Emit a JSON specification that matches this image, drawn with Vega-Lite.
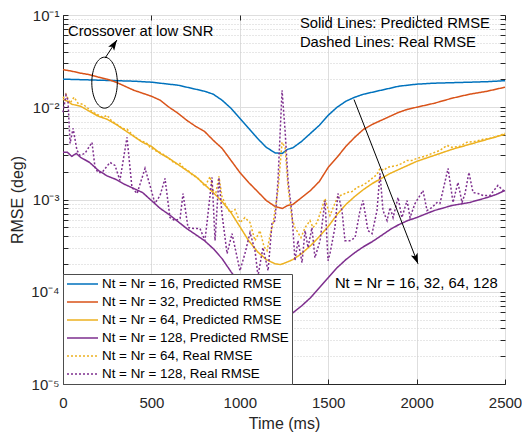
{
  "$schema": "https://vega.github.io/schema/vega-lite/v6.json",
  "width": 442,
  "height": 369,
  "autosize": "none",
  "padding": {"left": 63, "top": 15, "right": 17, "bottom": 48},
  "background": "white",
  "config": {
    "font": "Liberation Sans",
    "view": {"stroke": "#262626", "strokeWidth": 1},
    "axis": {"labelFont": "Liberation Sans", "titleFont": "Liberation Sans", "labelFontSize": 15, "titleFontSize": 16, "titleFontWeight": "normal", "labelColor": "#262626", "titleColor": "#262626", "domainColor": "#262626", "tickColor": "#262626"},
    "legend": {"orient": "bottom-left", "offset": 0, "fillColor": "white", "strokeColor": "#4d4d4d", "strokeWidth": 1, "padding": 3, "symbolType": "stroke", "symbolSize": 961, "symbolStrokeWidth": 1.5, "labelFontSize": 13.4, "labelFont": "Liberation Sans", "labelColor": "black", "labelLimit": 400, "rowPadding": 4, "labelOffset": 3, "clipHeight": 14, "cornerRadius": 0}
  },
  "datasets": {
    "p16": [{"time":0,"rmse":0.02015},{"time":100,"rmse":0.01991},{"time":200,"rmse":0.01966},{"time":300,"rmse":0.01941},{"time":400,"rmse":0.01917},{"time":500,"rmse":0.01869},{"time":600,"rmse":0.01778},{"time":650,"rmse":0.01734},{"time":700,"rmse":0.0165},{"time":750,"rmse":0.01569},{"time":800,"rmse":0.01493},{"time":850,"rmse":0.01385},{"time":900,"rmse":0.01191},{"time":950,"rmse":0.00975},{"time":1000,"rmse":0.00759},{"time":1050,"rmse":0.00591},{"time":1100,"rmse":0.0046},{"time":1150,"rmse":0.003674},{"time":1200,"rmse":0.0032},{"time":1240,"rmse":0.00316},{"time":1270,"rmse":0.003496},{"time":1300,"rmse":0.00363},{"time":1350,"rmse":0.00427},{"time":1400,"rmse":0.005217},{"time":1450,"rmse":0.00637},{"time":1500,"rmse":0.00818},{"time":1550,"rmse":0.01},{"time":1600,"rmse":0.01162},{"time":1650,"rmse":0.01284},{"time":1700,"rmse":0.01385},{"time":1800,"rmse":0.0153},{"time":1900,"rmse":0.01691},{"time":2000,"rmse":0.01778},{"time":2100,"rmse":0.01824},{"time":2200,"rmse":0.01846},{"time":2300,"rmse":0.01869},{"time":2400,"rmse":0.01893},{"time":2500,"rmse":0.01941}],
    "p32": [{"time":0,"rmse":0.02556},{"time":50,"rmse":0.02461},{"time":100,"rmse":0.02342},{"time":150,"rmse":0.02256},{"time":200,"rmse":0.02119},{"time":250,"rmse":0.02015},{"time":300,"rmse":0.01869},{"time":350,"rmse":0.01691},{"time":400,"rmse":0.0153},{"time":450,"rmse":0.0142},{"time":500,"rmse":0.01317},{"time":550,"rmse":0.01191},{"time":600,"rmse":0.01},{"time":650,"rmse":0.00861},{"time":700,"rmse":0.00722},{"time":750,"rmse":0.00621},{"time":800,"rmse":0.00548},{"time":850,"rmse":0.00438},{"time":900,"rmse":0.00358},{"time":950,"rmse":0.002654},{"time":1000,"rmse":0.001966},{"time":1050,"rmse":0.00153},{"time":1100,"rmse":0.001222},{"time":1150,"rmse":0.000975},{"time":1200,"rmse":0.000839},{"time":1240,"rmse":0.000799},{"time":1270,"rmse":0.000861},{"time":1300,"rmse":0.000883},{"time":1350,"rmse":0.001051},{"time":1400,"rmse":0.001252},{"time":1450,"rmse":0.001569},{"time":1500,"rmse":0.002228},{"time":1550,"rmse":0.002861},{"time":1600,"rmse":0.00377},{"time":1650,"rmse":0.00472},{"time":1700,"rmse":0.00577},{"time":1750,"rmse":0.00653},{"time":1800,"rmse":0.00722},{"time":1850,"rmse":0.007987},{"time":1900,"rmse":0.008826},{"time":1950,"rmse":0.009512},{"time":2000,"rmse":0.01},{"time":2100,"rmse":0.01105},{"time":2200,"rmse":0.01252},{"time":2300,"rmse":0.01385},{"time":2400,"rmse":0.01493},{"time":2500,"rmse":0.0165}],
    "p64": [{"time":0,"rmse":0.01222},{"time":25,"rmse":0.01162},{"time":50,"rmse":0.01078},{"time":100,"rmse":0.01025},{"time":150,"rmse":0.009048},{"time":200,"rmse":0.007987},{"time":250,"rmse":0.007405},{"time":300,"rmse":0.00653},{"time":350,"rmse":0.005623},{"time":400,"rmse":0.004839},{"time":450,"rmse":0.004165},{"time":500,"rmse":0.00377},{"time":550,"rmse":0.00316},{"time":600,"rmse":0.002791},{"time":650,"rmse":0.002401},{"time":700,"rmse":0.002066},{"time":750,"rmse":0.001778},{"time":800,"rmse":0.001455},{"time":850,"rmse":0.00119},{"time":900,"rmse":0.000951},{"time":950,"rmse":0.000722},{"time":1000,"rmse":0.000509},{"time":1050,"rmse":0.000358},{"time":1100,"rmse":0.000272},{"time":1150,"rmse":0.000223},{"time":1200,"rmse":0.000201},{"time":1230,"rmse":0.000197},{"time":1260,"rmse":0.000207},{"time":1300,"rmse":0.000223},{"time":1350,"rmse":0.000259},{"time":1400,"rmse":0.000316},{"time":1450,"rmse":0.000396},{"time":1500,"rmse":0.000509},{"time":1550,"rmse":0.000687},{"time":1600,"rmse":0.000883},{"time":1650,"rmse":0.001078},{"time":1700,"rmse":0.001284},{"time":1750,"rmse":0.001493},{"time":1800,"rmse":0.001691},{"time":1850,"rmse":0.001917},{"time":1900,"rmse":0.002119},{"time":1950,"rmse":0.002342},{"time":2000,"rmse":0.002588},{"time":2100,"rmse":0.003008},{"time":2200,"rmse":0.003496},{"time":2300,"rmse":0.003962},{"time":2400,"rmse":0.00449},{"time":2500,"rmse":0.005088}],
    "p128": [{"time":0,"rmse":0.003243},{"time":25,"rmse":0.003243},{"time":50,"rmse":0.002934},{"time":75,"rmse":0.00316},{"time":100,"rmse":0.002861},{"time":150,"rmse":0.002525},{"time":200,"rmse":0.002066},{"time":250,"rmse":0.0018},{"time":300,"rmse":0.00165},{"time":350,"rmse":0.001455},{"time":400,"rmse":0.001317},{"time":450,"rmse":0.00119},{"time":500,"rmse":0.000975},{"time":550,"rmse":0.000799},{"time":600,"rmse":0.000687},{"time":650,"rmse":0.000577},{"time":700,"rmse":0.000484},{"time":750,"rmse":0.000417},{"time":800,"rmse":0.000358},{"time":850,"rmse":0.000293},{"time":900,"rmse":0.000228},{"time":950,"rmse":0.000165},{"time":1000,"rmse":0.000122},{"time":1050,"rmse":0.0000951},{"time":1100,"rmse":0.0000759},{"time":1150,"rmse":0.0000621},{"time":1200,"rmse":0.0000535},{"time":1250,"rmse":0.0000522},{"time":1300,"rmse":0.0000591},{"time":1350,"rmse":0.0000704},{"time":1400,"rmse":0.0000861},{"time":1450,"rmse":0.0001105},{"time":1500,"rmse":0.000142},{"time":1550,"rmse":0.000182},{"time":1600,"rmse":0.000223},{"time":1650,"rmse":0.000265},{"time":1700,"rmse":0.000308},{"time":1750,"rmse":0.00035},{"time":1800,"rmse":0.000406},{"time":1850,"rmse":0.000472},{"time":1900,"rmse":0.000535},{"time":1950,"rmse":0.000591},{"time":2000,"rmse":0.000637},{"time":2100,"rmse":0.000759},{"time":2200,"rmse":0.000861},{"time":2300,"rmse":0.000928},{"time":2400,"rmse":0.001051},{"time":2450,"rmse":0.001133},{"time":2500,"rmse":0.001252}],
    "r64": [{"time":0,"rmse":0.01252},{"time":17,"rmse":0.01385},{"time":40,"rmse":0.01105},{"time":62,"rmse":0.01284},{"time":85,"rmse":0.01105},{"time":113,"rmse":0.01078},{"time":141,"rmse":0.00975},{"time":170,"rmse":0.008826},{"time":192,"rmse":0.00839},{"time":226,"rmse":0.00778},{"time":249,"rmse":0.00818},{"time":277,"rmse":0.00704},{"time":305,"rmse":0.00653},{"time":334,"rmse":0.00591},{"time":362,"rmse":0.00577},{"time":390,"rmse":0.005088},{"time":419,"rmse":0.0046},{"time":447,"rmse":0.00427},{"time":469,"rmse":0.004165},{"time":492,"rmse":0.003674},{"time":520,"rmse":0.003409},{"time":549,"rmse":0.003243},{"time":577,"rmse":0.003008},{"time":605,"rmse":0.002722},{"time":633,"rmse":0.002461},{"time":662,"rmse":0.002461},{"time":684,"rmse":0.002173},{"time":707,"rmse":0.002066},{"time":735,"rmse":0.001824},{"time":758,"rmse":0.001734},{"time":781,"rmse":0.001569},{"time":803,"rmse":0.001385},{"time":832,"rmse":0.001778},{"time":849,"rmse":0.001252},{"time":865,"rmse":0.00119},{"time":882,"rmse":0.001778},{"time":899,"rmse":0.001078},{"time":922,"rmse":0.000861},{"time":945,"rmse":0.000722},{"time":973,"rmse":0.000778},{"time":1001,"rmse":0.000562},{"time":1029,"rmse":0.000637},{"time":1058,"rmse":0.000562},{"time":1086,"rmse":0.000358},{"time":1114,"rmse":0.00046},{"time":1137,"rmse":0.000308},{"time":1154,"rmse":0.000279},{"time":1171,"rmse":0.000406},{"time":1188,"rmse":0.000548},{"time":1216,"rmse":0.001252},{"time":1239,"rmse":0.004165},{"time":1256,"rmse":0.003674},{"time":1273,"rmse":0.00135},{"time":1295,"rmse":0.000621},{"time":1312,"rmse":0.000496},{"time":1329,"rmse":0.000438},{"time":1346,"rmse":0.000386},{"time":1369,"rmse":0.000496},{"time":1397,"rmse":0.000591},{"time":1414,"rmse":0.000496},{"time":1437,"rmse":0.000562},{"time":1454,"rmse":0.000704},{"time":1482,"rmse":0.001025},{"time":1510,"rmse":0.00067},{"time":1533,"rmse":0.000861},{"time":1555,"rmse":0.001078},{"time":1584,"rmse":0.001133},{"time":1606,"rmse":0.00119},{"time":1635,"rmse":0.001222},{"time":1663,"rmse":0.00135},{"time":1691,"rmse":0.00142},{"time":1720,"rmse":0.00153},{"time":1748,"rmse":0.001691},{"time":1776,"rmse":0.001869},{"time":1793,"rmse":0.002173},{"time":1816,"rmse":0.002066},{"time":1833,"rmse":0.002228},{"time":1861,"rmse":0.002284},{"time":1889,"rmse":0.002342},{"time":1917,"rmse":0.002461},{"time":1946,"rmse":0.002654},{"time":1974,"rmse":0.002654},{"time":2002,"rmse":0.002791},{"time":2047,"rmse":0.002934},{"time":2087,"rmse":0.00316},{"time":2132,"rmse":0.003409},{"time":2172,"rmse":0.003864},{"time":2200,"rmse":0.003674},{"time":2245,"rmse":0.00377},{"time":2285,"rmse":0.004165},{"time":2330,"rmse":0.00427},{"time":2376,"rmse":0.00449},{"time":2415,"rmse":0.0046},{"time":2455,"rmse":0.004839},{"time":2500,"rmse":0.005217}],
    "r128": [{"time":0,"rmse":0.008826},{"time":17,"rmse":0.0135},{"time":28,"rmse":0.01191},{"time":40,"rmse":0.00406},{"time":57,"rmse":0.00591},{"time":79,"rmse":0.00341},{"time":96,"rmse":0.00301},{"time":124,"rmse":0.00316},{"time":164,"rmse":0.004165},{"time":181,"rmse":0.002228},{"time":198,"rmse":0.001966},{"time":221,"rmse":0.001966},{"time":266,"rmse":0.002525},{"time":294,"rmse":0.002342},{"time":322,"rmse":0.001609},{"time":362,"rmse":0.00472},{"time":390,"rmse":0.00135},{"time":419,"rmse":0.001162},{"time":464,"rmse":0.002173},{"time":492,"rmse":0.00142},{"time":520,"rmse":0.000905},{"time":549,"rmse":0.001105},{"time":577,"rmse":0.001691},{"time":605,"rmse":0.000637},{"time":633,"rmse":0.000591},{"time":662,"rmse":0.000621},{"time":679,"rmse":0.001162},{"time":707,"rmse":0.000496},{"time":747,"rmse":0.000484},{"time":775,"rmse":0.000484},{"time":803,"rmse":0.000358},{"time":843,"rmse":0.001734},{"time":860,"rmse":0.000358},{"time":882,"rmse":0.001734},{"time":899,"rmse":0.000704},{"time":928,"rmse":0.000259},{"time":956,"rmse":0.000427},{"time":973,"rmse":0.000301},{"time":1001,"rmse":0.000169},{"time":1029,"rmse":0.000259},{"time":1058,"rmse":0.000438},{"time":1086,"rmse":0.000279},{"time":1103,"rmse":0.000149},{"time":1131,"rmse":0.000301},{"time":1160,"rmse":0.000169},{"time":1182,"rmse":0.000548},{"time":1199,"rmse":0.000591},{"time":1216,"rmse":0.001609},{"time":1239,"rmse":0.0153},{"time":1256,"rmse":0.005623},{"time":1273,"rmse":0.001609},{"time":1295,"rmse":0.000704},{"time":1312,"rmse":0.000217},{"time":1329,"rmse":0.000358},{"time":1352,"rmse":0.000207},{"time":1369,"rmse":0.00046},{"time":1386,"rmse":0.000301},{"time":1408,"rmse":0.000496},{"time":1425,"rmse":0.000234},{"time":1454,"rmse":0.000358},{"time":1482,"rmse":0.000975},{"time":1499,"rmse":0.000217},{"time":1510,"rmse":0.000259},{"time":1538,"rmse":0.000496},{"time":1555,"rmse":0.001162},{"time":1578,"rmse":0.000759},{"time":1595,"rmse":0.000358},{"time":1623,"rmse":0.000358},{"time":1652,"rmse":0.000386},{"time":1680,"rmse":0.000759},{"time":1697,"rmse":0.000975},{"time":1725,"rmse":0.00046},{"time":1748,"rmse":0.000427},{"time":1776,"rmse":0.000759},{"time":1793,"rmse":0.001917},{"time":1810,"rmse":0.000759},{"time":1833,"rmse":0.000591},{"time":1850,"rmse":0.000818},{"time":1867,"rmse":0.000637},{"time":1895,"rmse":0.001051},{"time":1917,"rmse":0.000637},{"time":1946,"rmse":0.000975},{"time":1963,"rmse":0.000637},{"time":1991,"rmse":0.000905},{"time":2019,"rmse":0.001105},{"time":2036,"rmse":0.001252},{"time":2059,"rmse":0.000759},{"time":2087,"rmse":0.000818},{"time":2115,"rmse":0.000928},{"time":2132,"rmse":0.000905},{"time":2178,"rmse":0.002173},{"time":2206,"rmse":0.000928},{"time":2234,"rmse":0.00153},{"time":2257,"rmse":0.000928},{"time":2274,"rmse":0.001162},{"time":2296,"rmse":0.001966},{"time":2319,"rmse":0.001191},{"time":2347,"rmse":0.001162},{"time":2376,"rmse":0.001105},{"time":2415,"rmse":0.001105},{"time":2460,"rmse":0.00142},{"time":2489,"rmse":0.001252},{"time":2500,"rmse":0.001317}],
    "arrows": [{"time":238,"rmse":0.0341,"time2":305,"rmse2":0.0535},{"time":1646,"rmse":0.01213,"time2":2008,"rmse2":0.000201}],
    "headA": [{"time":305,"rmse":0.0535}],
    "headB": [{"time":2008,"rmse":0.000201}],
    "ellipse": [{"time":235,"rmse":0.01846}],
    "notes": [{"time":28,"rmse":0.0653,"label":"Crossover at low SNR"},{"time":1340,"rmse":0.0798,"label":"Solid Lines: Predicted RMSE"},{"time":1340,"rmse":0.0496,"label":"Dashed Lines: Real RMSE"},{"time":1538,"rmse":0.000122,"label":"Nt = Nr = 16, 32, 64, 128"}]
  },
  "layer": [
    {
      "encoding": {
        "x": {"field": "time", "type": "quantitative", "scale": {"domain": [0, 2500], "nice": false, "zero": false},
          "axis": {"title": "Time (ms)", "values": [0, 500, 1000, 1500, 2000, 2500], "format": "d", "labelFlush": false, "labelOverlap": false, "grid": true, "gridColor": "#dedede", "gridWidth": 1, "tickSize": -5, "labelPadding": 16, "titlePadding": 5}},
        "y": {"field": "rmse", "type": "quantitative", "scale": {"type": "log", "domain": [0.00001, 0.1], "nice": false},
          "axis": {"title": "RMSE (deg)", "values": [0.00001,0.00002,0.00003,0.00004,0.00005,0.00006,0.00007,0.00008,0.00009,0.0001,0.0002,0.0003,0.0004,0.0005,0.0006,0.0007,0.0008,0.0009,0.001,0.002,0.003,0.004,0.005,0.006,0.007,0.008,0.009,0.01,0.02,0.03,0.04,0.05,0.06,0.07,0.08,0.09,0.1],
            "labelExpr": "abs(log(datum.value)/LN10 - round(log(datum.value)/LN10)) > 0.001 ? '' : round(log(datum.value)/LN10) == -1 ? '10⁻¹' : round(log(datum.value)/LN10) == -2 ? '10⁻²' : round(log(datum.value)/LN10) == -3 ? '10⁻³' : round(log(datum.value)/LN10) == -4 ? '10⁻⁴' : '10⁻⁵'",
            "labelOverlap": false, "tickSize": -5, "labelPadding": 9, "titlePadding": 5, "grid": true, "gridWidth": 1,
            "gridColor": {"condition": {"test": "abs(log(datum.value)/LN10 - round(log(datum.value)/LN10)) < 0.001", "value": "#dedede"}, "value": "#cfcfcf"},
            "gridDash": {"condition": {"test": "abs(log(datum.value)/LN10 - round(log(datum.value)/LN10)) < 0.001", "value": []}, "value": [1, 2]}}}
      },
      "layer": [
        {"data": {"name": "p16"}, "mark": {"type": "line", "strokeWidth": 1.5},
         "encoding": {"color": {"datum": "Nt = Nr = 16, Predicted RMSE", "type": "nominal", "scale": {"domain": ["Nt = Nr = 16, Predicted RMSE","Nt = Nr = 32, Predicted RMSE","Nt = Nr = 64, Predicted RMSE","Nt = Nr = 128, Predicted RMSE","Nt = Nr = 64, Real RMSE","Nt = Nr = 128, Real RMSE"], "range": ["#0072BD","#D95319","#EDB120","#7E2F8E","#EDB120","#7E2F8E"]}, "legend": {"title": null}},
                      "strokeDash": {"datum": "Nt = Nr = 16, Predicted RMSE", "type": "nominal", "scale": {"domain": ["Nt = Nr = 16, Predicted RMSE","Nt = Nr = 32, Predicted RMSE","Nt = Nr = 64, Predicted RMSE","Nt = Nr = 128, Predicted RMSE","Nt = Nr = 64, Real RMSE","Nt = Nr = 128, Real RMSE"], "range": [[1,0],[1,0],[1,0],[1,0],[2,2],[2,2]]}, "legend": {"title": null}}}},
        {"data": {"name": "p32"}, "mark": {"type": "line", "strokeWidth": 1.5},
         "encoding": {"color": {"datum": "Nt = Nr = 32, Predicted RMSE", "type": "nominal"}, "strokeDash": {"datum": "Nt = Nr = 32, Predicted RMSE", "type": "nominal"}}},
        {"data": {"name": "p64"}, "mark": {"type": "line", "strokeWidth": 1.5},
         "encoding": {"color": {"datum": "Nt = Nr = 64, Predicted RMSE", "type": "nominal"}, "strokeDash": {"datum": "Nt = Nr = 64, Predicted RMSE", "type": "nominal"}}},
        {"data": {"name": "p128"}, "mark": {"type": "line", "strokeWidth": 1.5},
         "encoding": {"color": {"datum": "Nt = Nr = 128, Predicted RMSE", "type": "nominal"}, "strokeDash": {"datum": "Nt = Nr = 128, Predicted RMSE", "type": "nominal"}}},
        {"data": {"name": "r64"}, "mark": {"type": "line", "strokeWidth": 1.5},
         "encoding": {"color": {"datum": "Nt = Nr = 64, Real RMSE", "type": "nominal"}, "strokeDash": {"datum": "Nt = Nr = 64, Real RMSE", "type": "nominal"}}},
        {"data": {"name": "r128"}, "mark": {"type": "line", "strokeWidth": 1.5},
         "encoding": {"color": {"datum": "Nt = Nr = 128, Real RMSE", "type": "nominal"}, "strokeDash": {"datum": "Nt = Nr = 128, Real RMSE", "type": "nominal"}}},
        {"data": {"name": "ellipse"}, "mark": {"type": "point", "shape": "M-0.5,0A0.5,1,0,1,0,0.5,0A0.5,1,0,1,0,-0.5,0Z", "size": 2601, "filled": false, "stroke": "black", "strokeWidth": 1, "opacity": 1}},
        {"data": {"name": "arrows"}, "mark": {"type": "rule", "color": "black", "strokeWidth": 1},
         "encoding": {"x2": {"field": "time2"}, "y2": {"field": "rmse2"}}},
        {"data": {"name": "headA"}, "mark": {"type": "point", "shape": "M0,0L-0.45,1.3L0,1L0.45,1.3Z", "size": 256, "filled": true, "color": "black", "opacity": 1, "angle": 33.7}},
        {"data": {"name": "headB"}, "mark": {"type": "point", "shape": "M0,0L-0.45,1.3L0,1L0.45,1.3Z", "size": 256, "filled": true, "color": "black", "opacity": 1, "angle": 158.7}},
        {"data": {"name": "notes"}, "mark": {"type": "text", "align": "left", "baseline": "middle", "fontSize": 14.8, "font": "Liberation Sans", "color": "black"},
         "encoding": {"text": {"field": "label"}}}
      ]
    },
    {
      "data": {"name": "headA"},
      "mark": {"type": "point", "opacity": 0},
      "encoding": {
        "x": {"field": "time", "type": "quantitative", "axis": {"orient": "top", "title": null, "labels": false, "grid": false, "domain": false, "values": [0, 500, 1000, 1500, 2000, 2500], "tickSize": -5}},
        "y": {"field": "rmse", "type": "quantitative", "axis": {"orient": "right", "title": null, "labels": false, "grid": false, "domain": false, "values": [0.00001,0.00002,0.00003,0.00004,0.00005,0.00006,0.00007,0.00008,0.00009,0.0001,0.0002,0.0003,0.0004,0.0005,0.0006,0.0007,0.0008,0.0009,0.001,0.002,0.003,0.004,0.005,0.006,0.007,0.008,0.009,0.01,0.02,0.03,0.04,0.05,0.06,0.07,0.08,0.09,0.1], "tickSize": -5}}
      }
    }
  ],
  "resolve": {"axis": {"x": "independent", "y": "independent"}}
}
